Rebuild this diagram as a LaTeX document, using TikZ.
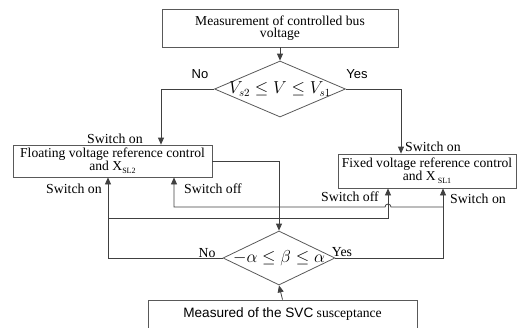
\documentclass[tikz,border=0pt]{standalone}
\usepackage{fontspec}
\setmainfont{Liberation Serif}
\newfontfamily\sansf{Liberation Sans}
\usetikzlibrary{shapes.geometric,arrows.meta}
\begin{document}
\begin{tikzpicture}[x=1pt,y=-1pt,
  box/.style={draw=black!65, line width=0.8pt, inner sep=0pt, align=center, font=\fontsize{13.6}{12.6}\selectfont},
  dia/.style={diamond, draw=black!65, line width=0.8pt, inner sep=0pt},
  line/.style={draw=black!75, line width=0.8pt},
  arr/.style={line, -{Triangle[length=7pt,width=6pt]}},
  lbl/.style={font=\fontsize{13.8}{13.8}\selectfont, inner sep=0pt},
]
\useasboundingbox (0,0) rectangle (518,327);
% boxes
\node[box, minimum width=236pt, minimum height=38pt] (top) at (280,28) {Measurement of controlled bus\\voltage};
\node[dia, minimum width=131pt, minimum height=56pt] (d1) at (280,89)
  {\makebox[0pt]{\fontsize{16}{16}\selectfont$V_{s2}\leq V\leq V_{s1}$}};
\node[box, minimum width=199pt, minimum height=32pt] (float) at (112.5,161)
  {Floating voltage reference control\\and X\raisebox{-0.6ex}{\fontsize{8}{8}\selectfont SL2}};
\node[box, minimum width=178pt, minimum height=34pt] (fixed) at (427,171)
  {Fixed voltage reference control\\and X\,\raisebox{-0.6ex}{\fontsize{8}{8}\selectfont SL1}};
\node[dia, minimum width=112pt, minimum height=54pt] (d2) at (279,258)
  {\makebox[0pt]{\fontsize{16}{16}\selectfont$-\alpha\leq\beta\leq\alpha$}};
\node[box, minimum width=269pt, minimum height=29pt] (meas) at (282.5,314.5)
  {{\sansf Measured of the SVC} susceptance};
% connectors
\draw[arr] (top.south) -- (d1.north);
\draw[arr] (d1.west) -| ([xshift=48.5pt]float.north);
\draw[arr] (d1.east) -| ([xshift=-26pt]fixed.north);
\draw[arr] (float.east) -| (d2.north);
\draw[arr] (meas.north) -- (d2.south);
\coordinate (nocorner) at (108,258);
\coordinate (yescorner) at (443,258);
\coordinate (ja) at (443,207);
\coordinate (jb) at (108,218);
\draw[arr] (d2.west) -- (nocorner) -- ([xshift=-4.5pt]float.south);
\draw[arr] (d2.east) -- (yescorner) -- ([xshift=16pt]fixed.south);
\draw[arr] (ja) -- (391,207) arc[start angle=0, end angle=180, radius=3pt] -- (174,207) -- ([xshift=61.5pt]float.south);
\draw[arr] (jb) -- (388,218) -- ([xshift=-39pt]fixed.south);
% labels
\node[lbl, font=\sansf\fontsize{13}{13}\selectfont] (no1) at (200,74) {No};
\node[lbl, font=\sansf\fontsize{13}{13}\selectfont] (yes1) at (357,74) {Yes};
\node[lbl] (son1) at (115,139) {Switch on};
\node[lbl] (son2) at (74,189) {Switch on};
\node[lbl] (soff2) at (213,189) {Switch off};
\node[lbl, anchor=west] (son3) at (405,147) {Switch on};
\node[lbl] (soff3) at (350,197) {Switch off};
\node[lbl] (son4) at (478,199) {Switch on};
\node[lbl] (no2) at (207,253) {No};
\node[lbl] (yes2) at (342,252) {Yes};
\end{tikzpicture}
\end{document}
